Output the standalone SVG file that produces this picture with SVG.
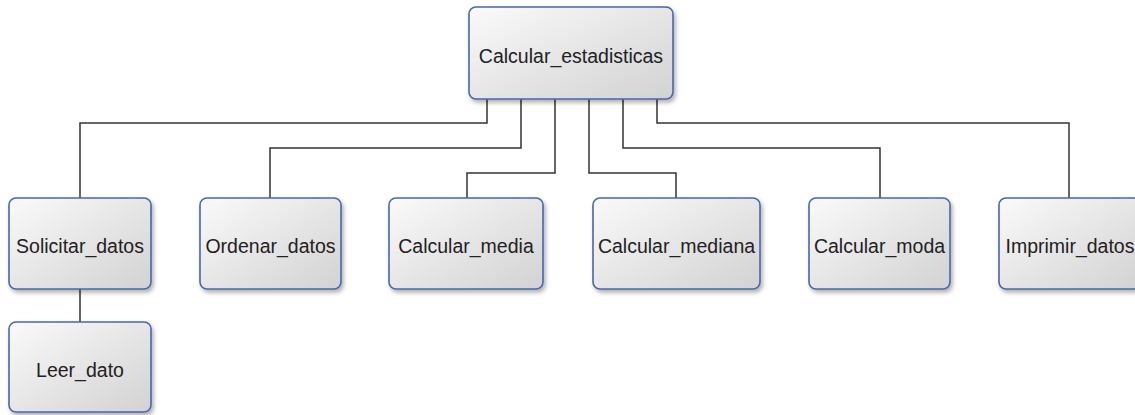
<svg xmlns="http://www.w3.org/2000/svg" width="1135" height="415" viewBox="0 0 1135 415">
<defs>
<linearGradient id="g" x1="0" y1="0" x2="1" y2="1">
<stop offset="0" stop-color="#fafafa"/>
<stop offset="1" stop-color="#d2d2d2"/>
</linearGradient>
<filter id="sh" x="-10%" y="-10%" width="130%" height="130%">
<feDropShadow dx="2" dy="3" stdDeviation="2" flood-color="#000" flood-opacity="0.3"/>
</filter>
<style>
.box{fill:url(#g);stroke:#4767ad;stroke-width:1.6;filter:url(#sh)}
.lbl{font-family:"Liberation Sans",Arial,sans-serif;font-size:19.5px;fill:#222;text-anchor:middle}
.con{fill:none;stroke:#333;stroke-width:1.5}
</style>
</defs>
<rect width="1135" height="415" fill="#fff"/>
<g id="connectors">
<polyline class="con" points="487,99 487,123 80,123 80,198"/>
<polyline class="con" points="521,99 521,148 270,148 270,198"/>
<polyline class="con" points="555,99 555,173 467,173 467,198"/>
<polyline class="con" points="589,99 589,173 676,173 676,198"/>
<polyline class="con" points="623,99 623,148 880,148 880,198"/>
<polyline class="con" points="657,99 657,123 1069,123 1069,198"/>
<line class="con" x1="80" y1="289" x2="80" y2="322"/>
</g>
<g id="n-calcular-estadisticas">
<rect class="box" x="469" y="7" width="204" height="92" rx="7"/>
<text class="lbl" x="571" y="63">Calcular_estadisticas</text>
</g>
<g id="n-solicitar-datos">
<rect class="box" x="9" y="198" width="142" height="91" rx="7"/>
<text class="lbl" x="80" y="253">Solicitar_datos</text>
</g>
<g id="n-ordenar-datos">
<rect class="box" x="200" y="198" width="141" height="91" rx="7"/>
<text class="lbl" x="270.5" y="253">Ordenar_datos</text>
</g>
<g id="n-calcular-media">
<rect class="box" x="389" y="198" width="154" height="91" rx="7"/>
<text class="lbl" x="466" y="253">Calcular_media</text>
</g>
<g id="n-calcular-mediana">
<rect class="box" x="593" y="198" width="167" height="91" rx="7"/>
<text class="lbl" x="676.5" y="253">Calcular_mediana</text>
</g>
<g id="n-calcular-moda">
<rect class="box" x="809" y="198" width="141" height="91" rx="7"/>
<text class="lbl" x="879.5" y="253">Calcular_moda</text>
</g>
<g id="n-imprimir-datos">
<rect class="box" x="999" y="198" width="142" height="91" rx="7"/>
<text class="lbl" x="1070" y="253">Imprimir_datos</text>
</g>
<g id="n-leer-dato">
<rect class="box" x="9" y="322" width="142" height="90" rx="7"/>
<text class="lbl" x="80" y="377">Leer_dato</text>
</g>
</svg>
